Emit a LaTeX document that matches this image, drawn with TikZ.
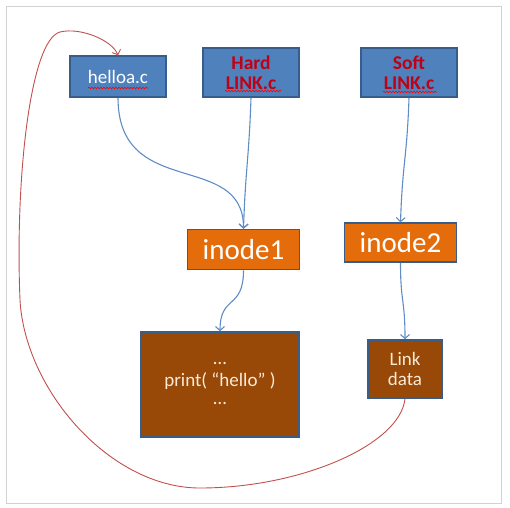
\documentclass[tikz,border=0pt]{standalone}
\usepackage{fontspec}
\setmainfont{Carlito}
\usepackage{tikz}
\usetikzlibrary{arrows.meta, calc, decorations.pathmorphing}
\definecolor{fileFill}{RGB}{79, 129, 189}
\definecolor{boxLine}{RGB}{56, 93, 138}
\definecolor{inodeFill}{RGB}{228, 108, 10}
\definecolor{dataFill}{RGB}{152, 72, 7}
\definecolor{pointerLine}{RGB}{96, 140, 198}
\definecolor{backLine}{RGB}{192, 80, 77}
\definecolor{nameRed}{RGB}{192, 0, 20}
\definecolor{dataText}{RGB}{250, 234, 214}
\definecolor{frameGray}{RGB}{210, 210, 210}
\tikzset{
    file_box/.style={
        draw=boxLine,
        line width=1.5pt,
        fill=fileFill,
        inner sep=0pt,
        minimum width=96pt,
        align=center,
        font=\fontsize{19}{20}\selectfont
    },
    link_box/.style={
        file_box,
        minimum height=49pt,
        text=nameRed,
        font=\bfseries\fontsize{19.5}{20}\selectfont
    },
    inode_box/.style={
        draw=boxLine,
        line width=1.5pt,
        fill=inodeFill,
        text=white,
        inner sep=0pt,
        minimum width=112pt,
        minimum height=40pt,
        font=\fontsize{29}{30}\selectfont
    },
    data_box/.style={
        draw=boxLine,
        line width=1.5pt,
        fill=dataFill,
        text=dataText,
        inner sep=0pt,
        align=center,
        font=\fontsize{19}{20}\selectfont
    },
    ptr_edge/.style={
        ->,
        >={Straight Barb[length=4pt, width=9pt]},
        line width=1.1pt,
        draw=pointerLine
    },
    back_edge/.style={
        ptr_edge,
        line width=0.9pt,
        draw=backLine
    },
    spell_wave/.style={
        draw=red,
        line width=0.6pt,
        decorate,
        decoration={snake, amplitude=0.8pt, segment length=3pt}
    }
}

\begin{document}
\begin{tikzpicture}[x=1pt, y=-1pt]
        \useasboundingbox (0,0) rectangle (510,507);
        \draw[frameGray, line width=1pt] (6,6) rectangle (501,503);

        % file names
        \node[file_box, text=white, minimum height=41pt] (hello) at (118,76.5) {helloa.c};
        \node[link_box] (hard) at (251,72.5) {Hard\\LINK.c};
        \node[link_box] (soft) at (409,72.5) {Soft\\LINK.c};

        % spell-check underlines
        \draw[spell_wave] ($(hello.center)+(-30,11.5)$) -- ++(60,0);
        \draw[spell_wave] ($(hard.center)+(-26,18.5)$) -- ++(56,0);
        \draw[spell_wave] ($(soft.center)+(-26,19.5)$) -- ++(54,0);

        % inodes and data blocks
        \node[inode_box] (inode1) at (243.5,249.5) {inode1};
        \node[inode_box, minimum height=39pt] (inode2) at (400.5,242.5) {inode2};
        \node[data_box, minimum width=158pt, minimum height=105pt] (content) at (220,384.5)
            {\raisebox{0.3ex}{\ldots}\\print( “hello” )\\\raisebox{0.3ex}{\ldots}};
        \node[data_box, minimum width=74pt, minimum height=58pt] (linkdata) at (405,369) {Link\\data};

        \draw[ptr_edge] (hello.south) .. controls +(0,103) and +(0,-79) .. (inode1.north);
        \draw[ptr_edge] (hard.south) .. controls +(-2,60) and +(2,-60) .. (inode1.north);
        \draw[ptr_edge] (soft.south) .. controls +(-2,60) and +(2,-60) .. (inode2.north);
        \draw[ptr_edge] (inode1.south) .. controls +(0,40) and +(0,-37) .. (content.north);
        \draw[ptr_edge] (inode2.south) .. controls +(0,40) and +(0,-40) .. (linkdata.north);

        % the soft link points back to the file name
        \draw[back_edge] (linkdata.south)
            .. controls (400,445) and (300,488) .. (200,488)
            .. controls (110,488) and (25,390) .. (20,300)
            .. controls (15,180) and (30,40) .. (60,32)
            .. controls (80,27) and (112,40) .. (hello.north);
    \end{tikzpicture}
\end{document}
